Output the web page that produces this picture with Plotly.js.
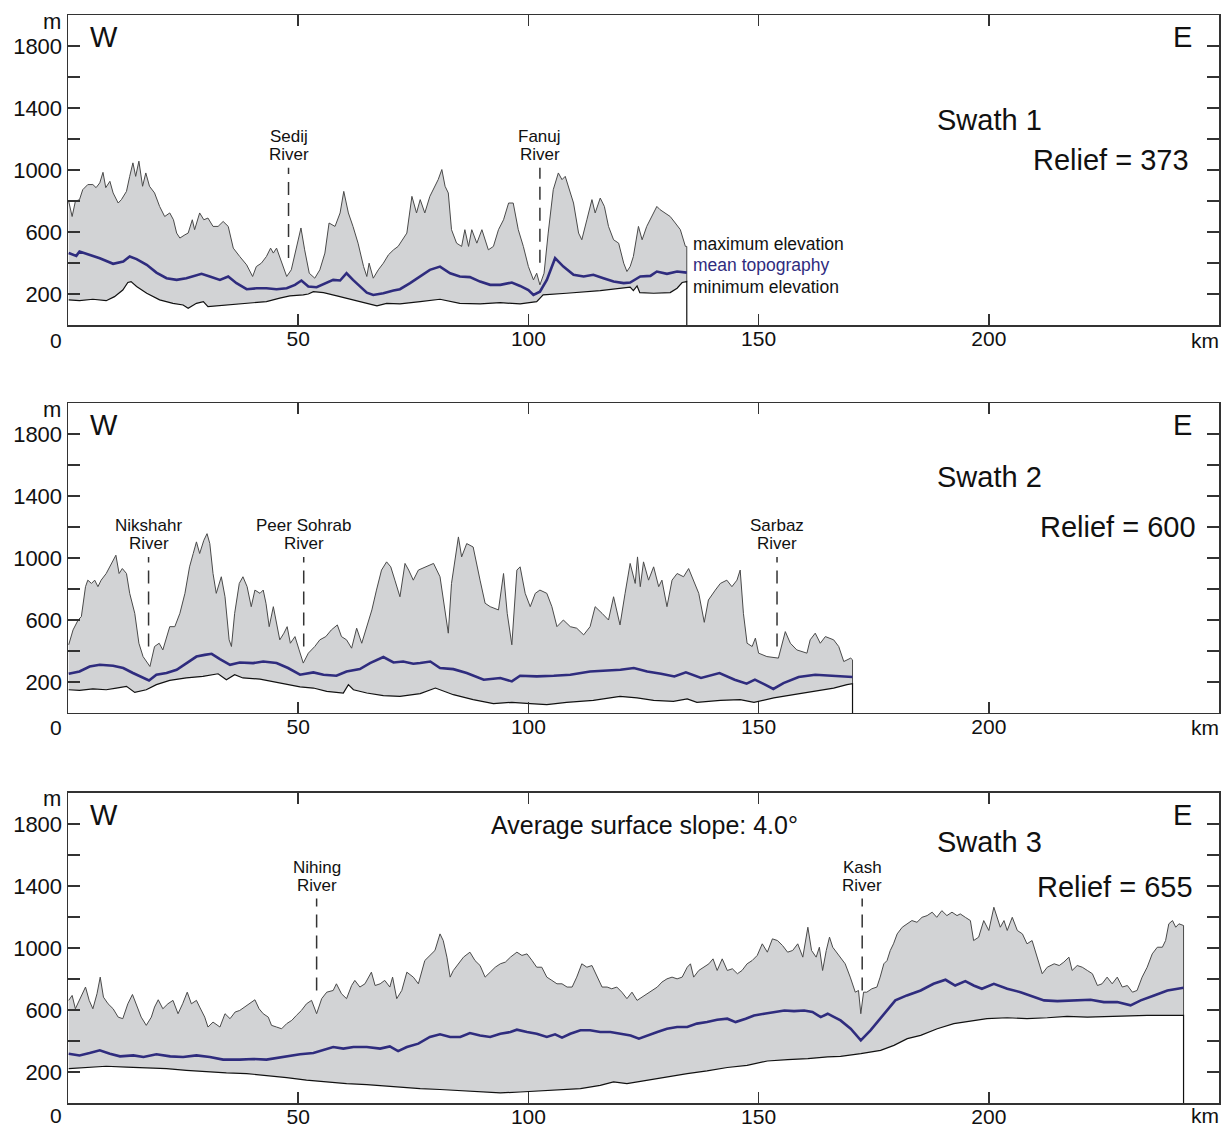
<!DOCTYPE html>
<html>
<head>
<meta charset="utf-8">
<script src="https://cdn.plot.ly/plotly-3.0.1.min.js"></script>
<style>html,body{margin:0;padding:0;background:#fff;}#chart{width:1227px;height:1128px;}</style>
</head>
<body>
<div id="chart"></div>
<script>
// ---------------- DATA (km along swath, elevation m) ----------------
// Swath 1
const s1MaxKm = [0.15,0.9,1.6,2.5,3.2,4.3,5.4,6.1,6.9,7.6,8.2,9.1,9.8,10.9,11.6,12.7,13.4,14.1,14.7,15.4,16.2,16.9,17.7,18.8,19.9,21.0,22.1,22.9,23.6,24.3,25.4,26.1,27.0,27.5,28.6,29.5,30.4,31.5,32.6,33.7,34.8,35.9,37.3,38.8,40.1,40.9,42.0,43.1,44.0,44.6,45.3,46.0,46.7,47.5,48.5,49.6,50.6,51.4,52.4,53.6,54.7,55.8,56.7,58.0,59.1,59.9,60.9,61.9,63.0,64.2,64.9,65.4,66.3,67.4,68.5,69.6,70.7,71.7,73.6,74.7,75.7,76.5,77.5,78.6,79.7,80.4,81.2,81.9,82.6,83.3,84.4,85.5,86.2,87.0,87.7,88.8,89.9,91.3,92.4,93.5,94.6,95.7,96.7,97.8,98.9,100.0,101.1,101.8,102.5,103.4,104.3,105.4,106.5,107.3,108.0,109.1,109.8,110.9,111.6,112.7,113.8,114.5,115.6,116.5,117.4,118.5,119.6,120.7,121.4,122.1,122.8,123.9,124.7,125.7,126.8,127.9,128.6,129.7,130.8,131.9,133.0,134.1,134.4];
const s1MaxM  = [798,700,798,809,873,906,906,886,917,985,886,927,852,787,809,862,959,1046,959,1057,895,981,895,852,765,700,723,679,593,561,582,593,679,615,723,679,690,636,636,668,636,496,442,388,313,377,399,442,496,464,496,442,377,313,356,507,626,485,334,302,356,464,658,636,723,862,723,636,528,377,313,399,302,356,399,453,485,507,593,830,723,809,723,830,895,938,1003,895,852,615,528,507,615,507,615,528,615,485,507,615,679,787,787,615,507,377,291,334,259,334,593,873,981,938,959,852,787,593,550,679,809,723,819,765,636,550,528,399,345,377,442,636,550,636,700,765,744,723,700,658,615,507,507];
const s1MeanKm = [0.15,1.8,2.5,4.7,6.9,9.8,12.0,13.4,14.9,17.1,19.2,21.4,23.6,25.7,27.2,29.0,30.8,33.0,34.8,36.6,38.8,41.0,43.1,45.3,47.5,49.3,50.7,52.2,54.0,55.8,57.6,59.1,60.5,61.9,63.4,64.9,66.3,68.5,70.7,72.1,74.3,76.5,78.6,80.8,83.0,85.1,87.3,89.5,91.7,93.9,96.4,98.2,100.0,101.1,102.5,104.0,105.8,107.6,109.8,112.0,114.1,116.3,118.5,120.7,122.1,124.3,126.5,127.9,130.1,132.3,134.4];
const s1MeanM  = [464,446,474,453,431,395,410,442,425,388,338,302,291,302,313,330,313,291,313,270,231,237,237,231,237,259,287,248,244,265,291,287,334,291,248,209,194,205,222,231,270,313,356,377,334,313,309,280,259,259,274,252,226,194,215,291,431,377,324,313,324,302,280,270,274,313,317,345,330,345,338];
const s1MinKm = [0.15,2.5,5.4,8.3,10.1,11.9,13.0,13.7,14.9,17.1,19.9,22.8,25.0,26.1,27.9,29.4,30.4,34.4,38.8,43.1,46.0,48.2,51.1,52.2,53.3,55.5,58.4,62.0,64.9,67.1,69.2,72.1,76.5,80.8,85.1,89.5,93.9,98.2,101.8,103.2,108.3,115.6,122.1,122.8,123.6,124.2,127.2,130.8,132.3,133.4,134.4];
const s1MinM  = [162,157,166,157,183,226,274,280,248,205,162,140,129,108,140,151,118,129,140,151,173,188,194,200,215,209,188,162,140,123,140,136,151,166,140,136,144,136,151,194,205,222,244,222,252,209,205,209,237,274,280];

// Swath 2
const s2MaxKm = [0.15,1.1,2.2,2.9,3.8,4.3,5.1,5.8,6.5,7.2,8.3,9.4,10.4,11.1,11.8,12.7,13.4,14.5,15.4,16.3,17.8,18.8,19.8,20.6,22.1,23.2,24.3,25.4,26.4,27.2,27.9,28.6,29.5,30.2,30.8,31.5,32.2,33.3,34.1,35.0,35.5,36.2,37.2,38.0,38.9,39.8,40.6,41.7,42.4,43.0,43.7,44.6,45.3,46.0,46.9,47.6,48.3,49.3,50.2,51.1,52.2,53.6,54.7,56.0,57.2,58.5,59.4,60.5,61.6,62.7,63.8,64.9,66.0,67.0,68.1,69.2,70.1,71.0,72.1,73.2,74.0,75.0,76.1,79.4,80.8,82.6,83.3,84.8,85.5,86.6,88.0,89.5,90.6,91.7,93.5,94.6,95.4,96.4,97.5,98.2,99.3,100.4,101.5,102.5,104.0,105.1,106.2,107.6,109.1,110.5,112.0,113.4,114.5,116.0,117.4,118.5,119.9,121.0,122.1,123.2,123.7,124.3,125.0,126.1,127.2,128.3,129.0,130.1,131.2,132.3,133.7,134.8,135.9,137.0,138.2,139.1,140.6,141.7,143.1,144.2,145.3,146.0,146.7,147.5,148.6,149.3,150.0,151.8,154.3,155.8,156.9,158.3,160.5,161.2,162.3,163.4,164.5,166.3,167.4,168.5,170.0,170.4];
const s2MaxM  = [440,536,600,622,815,857,836,857,815,857,900,965,1018,900,932,900,772,643,450,364,300,429,450,407,557,557,643,772,943,1029,1104,1029,1114,1157,1093,900,772,879,750,472,429,643,836,879,815,686,793,772,793,708,557,686,579,472,515,557,450,493,407,322,386,429,472,493,536,568,493,472,418,547,450,557,665,793,922,975,943,857,750,965,922,857,922,965,879,515,836,1136,1007,1093,1071,857,708,686,665,900,643,440,922,943,772,686,772,793,772,686,557,600,557,547,504,557,686,643,600,750,568,772,965,836,1007,815,975,857,943,815,857,686,857,900,879,932,857,772,585,729,793,836,857,815,857,922,643,450,429,483,386,364,354,525,450,407,386,472,515,450,493,472,429,332,354,343];
const s2MeanKm = [0.15,2.5,4.7,6.9,9.8,12.0,14.1,16.3,17.6,19.2,21.4,23.6,25.7,27.9,29.7,31.2,33.0,35.2,37.3,40.2,42.4,45.3,47.8,50.4,53.3,55.5,58.3,60.5,63.4,65.6,68.5,70.7,72.8,75.0,76.5,78.7,80.8,83.7,86.6,90.3,93.9,96.4,98.2,101.8,105.5,109.1,113.4,117.1,120.0,122.9,125.8,128.8,131.7,134.2,137.5,141.5,144.8,147.4,149.2,151.4,153.2,155.4,158.7,162.3,166.0,168.9,170.4];
const s2MeanM  = [253,268,300,311,305,290,258,226,210,247,258,279,322,364,375,382,348,311,326,322,332,322,290,247,262,247,240,268,283,322,361,326,332,318,322,332,290,283,258,215,226,204,240,236,240,247,268,275,279,290,268,253,236,262,226,258,215,189,215,183,155,193,232,247,240,236,232];
const s2MinKm = [0.15,2.5,5.4,8.3,10.5,12.7,14.5,17.0,19.2,22.1,25.7,29.3,32.6,34.4,36.2,38.0,41.7,45.3,48.2,50.4,53.3,56.2,59.8,60.9,62.0,64.9,68.5,72.1,76.5,79.8,83.7,88.0,92.4,96.4,100.4,104.0,108.3,114.1,119.9,123.6,127.2,131.5,134.5,136.6,141.7,146.0,149.0,153.3,157.6,162.0,166.3,169.2,170.4];
const s2MinM  = [150,146,155,150,161,172,133,150,183,210,226,236,253,215,247,226,219,197,183,168,161,139,129,183,150,129,112,107,125,161,118,86,60,69,60,54,69,82,107,97,82,75,91,69,82,86,69,97,118,139,161,183,189];

// Swath 3
const s3MaxKm = [0.15,0.9,1.6,2.5,3.8,4.6,5.4,6.3,7.0,7.7,8.7,9.8,10.9,11.9,13.0,14.0,14.8,15.9,17.0,18.1,18.8,19.6,20.6,21.7,22.8,23.9,24.9,25.9,26.8,27.9,28.6,29.7,30.4,31.5,33.0,34.1,35.2,36.3,37.3,38.4,39.5,40.6,41.5,42.4,43.5,44.2,45.3,46.4,47.5,48.6,49.6,50.7,51.8,52.9,54.0,55.1,56.2,57.6,58.3,59.4,60.5,61.6,62.3,63.4,64.5,65.9,66.7,67.8,68.8,69.9,70.5,71.4,72.5,73.6,75.0,76.1,77.5,78.6,79.7,80.8,81.5,82.3,83.0,83.7,84.8,85.9,87.3,88.4,89.5,90.6,91.7,92.8,93.9,95.0,96.1,97.5,98.6,99.7,100.8,101.8,102.9,104.0,105.1,106.2,107.3,108.4,109.5,110.5,111.6,112.7,113.8,114.9,116.0,117.1,118.1,119.2,120.3,121.4,122.5,123.6,124.7,125.8,126.9,128.0,129.0,130.1,131.2,132.3,133.4,134.5,135.2,135.9,137.0,138.1,139.2,140.1,141.0,142.1,143.2,144.3,145.4,146.4,147.5,148.6,149.7,150.8,151.9,153.0,154.1,155.2,156.3,157.4,158.5,159.6,160.7,161.5,162.5,163.2,163.9,164.7,165.4,166.1,167.2,168.8,169.9,171.0,171.7,172.2,172.8,173.5,174.6,175.7,176.4,177.2,177.9,178.6,179.3,180.1,181.2,182.2,183.3,184.4,185.5,186.6,187.7,188.7,189.8,190.9,192.0,193.1,193.8,194.9,196.0,196.7,197.8,198.9,200.0,201.1,201.8,202.5,203.3,204.0,205.1,206.2,207.3,208.3,209.4,210.5,211.6,212.7,214.2,215.3,216.3,217.4,218.1,219.2,220.3,221.4,222.5,223.6,224.6,225.7,226.8,227.9,229.0,230.1,231.2,232.2,233.3,234.4,235.5,236.6,237.7,238.4,239.1,239.9,240.6,241.3,242.3];
const s3MaxM  = [662,694,608,662,748,662,608,705,812,683,640,608,554,544,640,700,640,554,501,554,619,666,608,640,662,576,640,715,640,662,619,554,490,522,490,576,544,587,597,619,640,666,608,576,554,501,490,479,512,533,565,597,640,662,576,673,715,726,769,705,673,758,791,748,769,844,758,769,791,748,812,673,726,844,812,769,919,952,984,1091,1048,941,812,855,898,941,973,919,887,812,844,876,898,909,941,973,952,962,919,876,876,812,791,769,769,748,748,812,898,876,887,812,748,748,737,748,715,673,715,662,683,705,726,748,780,801,812,801,812,876,898,812,855,876,898,930,855,930,855,866,834,855,898,919,952,1027,973,1059,1048,1016,973,984,1027,941,1134,984,941,1005,855,984,1070,1005,962,898,812,715,726,576,715,715,737,748,812,898,919,984,1027,1091,1134,1156,1177,1166,1198,1209,1231,1198,1241,1209,1231,1209,1220,1198,1177,1048,1070,1177,1113,1263,1198,1134,1177,1113,1198,1113,1091,1027,1048,941,834,876,898,887,909,941,855,887,876,855,834,758,769,812,769,812,748,758,715,726,812,876,962,1005,1005,1048,1156,1177,1134,1156,1145];
const s3MeanKm = [0.15,2.5,4.7,6.9,9.1,11.3,14.2,16.4,19.2,22.2,25.0,27.9,30.8,33.7,37.3,40.2,43.1,46.0,48.2,50.4,53.3,55.5,57.6,59.8,62.0,64.9,67.8,69.9,71.7,73.6,76.1,78.6,80.8,83.0,85.2,87.3,89.5,91.7,93.9,96.1,97.5,99.7,101.8,104.0,105.8,107.3,109.1,111.3,113.4,115.6,117.8,120.0,122.2,124.0,125.8,128.0,130.1,132.3,134.5,136.6,138.8,141.0,143.2,145.0,147.2,149.0,151.2,153.4,155.6,157.7,159.9,161.7,163.5,165.0,166.4,167.8,170.0,172.2,174.3,177.2,179.7,182.2,185.2,188.0,190.6,192.7,194.9,196.7,198.5,201.1,204.0,206.9,209.8,212.0,214.9,218.5,222.1,225.0,227.9,230.8,233.0,235.9,238.8,242.3];
const s3MeanM  = [318,307,322,340,318,301,307,297,314,301,297,307,297,280,280,284,280,293,307,314,322,340,361,351,361,361,351,365,335,361,383,426,443,426,426,451,436,426,447,458,473,458,447,426,443,422,447,469,469,458,458,447,436,415,436,458,479,490,490,512,522,537,544,522,544,565,576,587,597,593,597,587,554,576,554,533,479,404,469,576,662,694,726,769,795,758,786,758,737,769,737,715,683,662,657,662,666,651,651,630,662,694,726,744];
const s3MinKm = [0.15,4.0,8.3,12.7,17.0,21.4,25.7,30.1,34.4,38.8,43.1,47.5,51.8,56.2,60.5,64.9,69.2,73.6,76.5,80.8,85.2,89.5,93.9,98.2,102.5,106.9,111.3,115.6,118.5,121.4,125.8,130.1,134.5,138.8,143.2,147.5,151.9,156.3,160.7,165.0,167.8,172.2,176.5,179.4,182.3,185.2,188.8,192.4,196.0,199.6,204.0,208.3,212.7,217.0,221.4,225.7,230.1,234.4,238.8,242.3];
const s3MinM  = [222,229,237,232,226,222,211,200,194,190,179,164,147,136,125,119,108,100,93,87,78,71,65,71,78,82,93,114,136,125,147,168,190,207,229,243,271,280,286,297,301,318,340,372,415,436,479,512,529,544,550,544,550,559,554,559,563,565,565,565];

// Rivers (km position, dashed line from bottom to top elevation)
const s1RiverNames = ['Sedij', 'Fanuj'];
const s1RiverKm = [47.9, 102.5];
const s1RiverTop = [1014, 1014];
const s1RiverBottom = [432, 401];
const s2RiverNames = ['Nikshahr', 'Peer Sohrab', 'Sarbaz'];
const s2RiverKm = [17.5, 51.2, 154.0];
const s2RiverTop = [1007, 1007, 1007];
const s2RiverBottom = [429, 429, 429];
const s3RiverNames = ['Nihing', 'Kash'];
const s3RiverKm = [54.0, 172.5];
const s3RiverTop = [1320, 1320];
const s3RiverBottom = [726, 726];

const swathNames = ['Swath 1', 'Swath 2', 'Swath 3'];
const reliefValues = [373, 600, 655];
const yTickVals = [200, 400, 600, 800, 1000, 1200, 1400, 1600, 1800];
const yTickText = ['200', '', '600', '', '1000', '', '1400', '', '1800'];
const xTickVals = [50, 100, 150, 200];
const legendNames = ['maximum elevation', 'mean topography', 'minimum elevation'];
const legendY = [524, 388, 246];
const slopeText = 'Average surface slope: 4.0°';

// ---------------- BUILD ----------------
const FONT = 'Arial, "Liberation Sans", Helvetica, sans-serif';
const FILL = '#d2d3d5', MAXC = '#4a4a4a', MINC = '#111111', MEANC = '#2f2c7e', AXC = '#333333';

const swaths = [
  {maxKm:s1MaxKm, maxM:s1MaxM, meanKm:s1MeanKm, meanM:s1MeanM, minKm:s1MinKm, minM:s1MinM,
   rn:s1RiverNames, rk:s1RiverKm, rt:s1RiverTop, rb:s1RiverBottom},
  {maxKm:s2MaxKm, maxM:s2MaxM, meanKm:s2MeanKm, meanM:s2MeanM, minKm:s2MinKm, minM:s2MinM,
   rn:s2RiverNames, rk:s2RiverKm, rt:s2RiverTop, rb:s2RiverBottom},
  {maxKm:s3MaxKm, maxM:s3MaxM, meanKm:s3MeanKm, meanM:s3MeanM, minKm:s3MinKm, minM:s3MinM,
   rn:s3RiverNames, rk:s3RiverKm, rt:s3RiverTop, rb:s3RiverBottom}
];
const domains = [[0.71507, 1], [0.35846, 0.64338], [0, 0.28493]];
const swathPos = [[0.801, 0.661], [0.801, 0.761], [0.801, 0.842]];
const reliefPos = [[0.9757, 0.532], [0.9817, 0.600], [0.979, 0.697]];
const bottomLabelShift = [-15, -15, -12];

const data = [], shapes = [], annotations = [];
const layout = {
  width: 1227, height: 1128,
  margin: {l: 68, r: 8, t: 15, b: 25},
  paper_bgcolor: '#ffffff', plot_bgcolor: '#ffffff',
  showlegend: false,
  font: {family: FONT, color: '#111', size: 22}
};

swaths.forEach((s, i) => {
  const sfx = i === 0 ? '' : String(i + 1);
  const xa = 'x' + sfx, ya = 'y' + sfx;
  const last = a => a[a.length - 1];
  // fill between min and max
  data.push({x: s.minKm, y: s.minM, xaxis: xa, yaxis: ya, mode: 'lines', line: {width: 0, color: FILL}, hoverinfo: 'skip'});
  data.push({x: s.maxKm, y: s.maxM, xaxis: xa, yaxis: ya, mode: 'lines', fill: 'tonexty', fillcolor: FILL, line: {width: 0, color: FILL}, hoverinfo: 'skip'});
  // max line
  data.push({x: s.maxKm, y: s.maxM, xaxis: xa, yaxis: ya, mode: 'lines', line: {color: MAXC, width: 1}, name: 'maximum elevation'});
  // right edge of fill
  data.push({x: [last(s.maxKm), last(s.minKm)], y: [last(s.maxM), last(s.minM)], xaxis: xa, yaxis: ya, mode: 'lines', line: {color: MAXC, width: 1}, hoverinfo: 'skip'});
  // min line with drop to 0 at the swath end
  data.push({x: s.minKm.concat([last(s.minKm)]), y: s.minM.concat([0]), xaxis: xa, yaxis: ya, mode: 'lines', line: {color: MINC, width: 1.2}, name: 'minimum elevation'});
  // mean
  data.push({x: s.meanKm, y: s.meanM, xaxis: xa, yaxis: ya, mode: 'lines', line: {color: MEANC, width: 2.6}, name: 'mean topography'});

  layout['xaxis' + sfx] = {
    domain: [0, 1], range: [0, 250], anchor: ya,
    tickmode: 'array', tickvals: xTickVals, ticktext: xTickVals.map(String),
    ticks: 'inside', ticklen: 11, tickwidth: 1.5, tickcolor: AXC,
    showline: true, linecolor: AXC, linewidth: 1.5, mirror: 'ticks',
    showgrid: false, zeroline: false, fixedrange: true,
    ticklabelstandoff: -6,
    tickfont: {family: FONT, size: 21, color: '#111'}
  };
  layout['yaxis' + sfx] = {
    domain: domains[i], range: [0, 2000], anchor: xa,
    tickmode: 'array', tickvals: yTickVals, ticktext: yTickText,
    ticks: 'inside', ticklen: 12, tickwidth: 1.5, tickcolor: AXC,
    showline: true, linecolor: AXC, linewidth: 1.5, mirror: 'ticks',
    showgrid: false, zeroline: false, fixedrange: true,
    tickfont: {family: FONT, size: 22, color: '#111'}
  };

  // rivers
  s.rk.forEach((km, j) => {
    shapes.push({type: 'line', xref: xa, yref: ya, x0: km, x1: km, y0: s.rb[j], y1: s.rt[j],
      line: {color: AXC, width: 1.5, dash: '13px,8px'}});
    annotations.push({xref: xa, yref: ya, x: km, y: s.rt[j], text: s.rn[j], showarrow: false,
      xanchor: 'center', yanchor: 'middle', yshift: 31, font: {family: FONT, size: 17, color: '#111'}});
    annotations.push({xref: xa, yref: ya, x: km, y: s.rt[j], text: 'River', showarrow: false,
      xanchor: 'center', yanchor: 'middle', yshift: 13, font: {family: FONT, size: 17, color: '#111'}});
  });

  const xd = xa + ' domain', yd = ya + ' domain';
  annotations.push({xref: xd, yref: yd, x: 0.0313, y: 0.929, text: 'W', showarrow: false, xanchor: 'center', yanchor: 'middle', font: {family: FONT, size: 29, color: '#111'}});
  annotations.push({xref: xd, yref: yd, x: 0.9687, y: 0.929, text: 'E', showarrow: false, xanchor: 'center', yanchor: 'middle', font: {family: FONT, size: 29, color: '#111'}});
  annotations.push({xref: xd, yref: yd, x: swathPos[i][0], y: swathPos[i][1], text: swathNames[i], showarrow: false, xanchor: 'center', yanchor: 'middle', font: {family: FONT, size: 29, color: '#111'}});
  annotations.push({xref: xd, yref: yd, x: reliefPos[i][0], y: reliefPos[i][1], text: 'Relief = ' + reliefValues[i], showarrow: false, xanchor: 'right', yanchor: 'middle', font: {family: FONT, size: 29, color: '#111'}});
  annotations.push({xref: xd, yref: yd, x: 0, y: 0, text: '0', showarrow: false, xanchor: 'right', yanchor: 'middle', borderpad: 0, xshift: -5, yshift: bottomLabelShift[i], font: {family: FONT, size: 21, color: '#111'}});
  annotations.push({xref: xd, yref: yd, x: 1, y: 0, text: 'km', showarrow: false, xanchor: 'right', yanchor: 'middle', borderpad: 0, xshift: 1, yshift: bottomLabelShift[i], font: {family: FONT, size: 21, color: '#111'}});
  annotations.push({xref: xd, yref: yd, x: 0, y: 1, text: 'm', showarrow: false, xanchor: 'right', yanchor: 'middle', xshift: -5, yshift: -6, font: {family: FONT, size: 22, color: '#111'}});
});

// legend labels for swath 1
const legendColors = ['#111', MEANC, '#111'];
legendNames.forEach((t, k) => {
  annotations.push({xref: 'x', yref: 'y', x: s1MaxKm[s1MaxKm.length - 1], y: legendY[k], text: t, showarrow: false,
    xanchor: 'left', yanchor: 'middle', xshift: 4, font: {family: FONT, size: 17.5, color: legendColors[k]}});
});
annotations.push({xref: 'x3 domain', yref: 'y3 domain', x: 0.501, y: 0.897, text: slopeText, showarrow: false,
  xanchor: 'center', yanchor: 'middle', font: {family: FONT, size: 25, color: '#111'}});

layout.shapes = shapes;
layout.annotations = annotations;

Plotly.newPlot('chart', data, layout, {staticPlot: true, displayModeBar: false});
</script>
</body>
</html>
